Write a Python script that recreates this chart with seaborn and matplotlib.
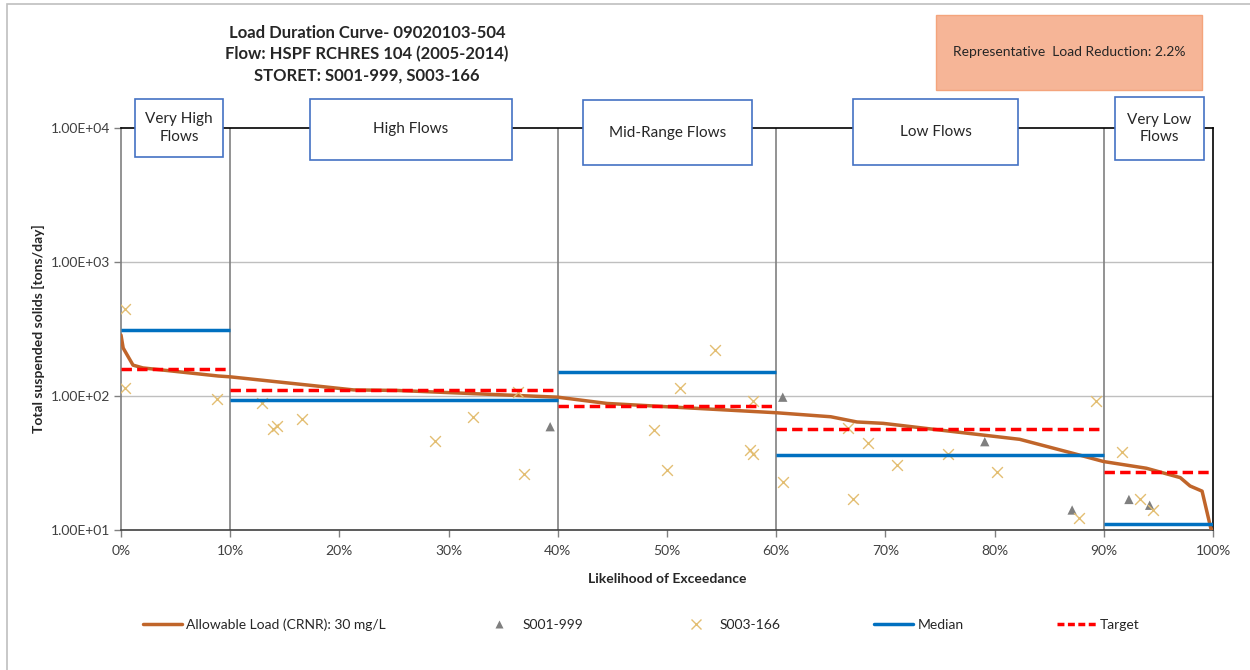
import numpy as np
import pandas as pd
import matplotlib
matplotlib.use("Agg")
import matplotlib.pyplot as plt
import seaborn as sns
from matplotlib.patches import Rectangle
from matplotlib.ticker import FuncFormatter, FixedLocator, NullLocator
from matplotlib.lines import Line2D

# allowable load curve (CRNR 30 mg/L)
curve_x = [0, 0.2, 1.1, 2.0, 8.9, 10, 21.3, 25.3, 40, 44.5, 60, 65, 67.4, 69.8,
           75, 82.3, 87.2, 90, 93.9, 97, 97.9, 99, 99.8, 100]
curve_y = [285, 228, 170, 162, 141, 139, 111, 110, 98, 88, 75, 70, 64, 62.5,
           55.7, 47.5, 37.3, 32.4, 28.9, 24.6, 21.3, 19.5, 10.3, 10]

# monitoring samples
s001_x = [39.3, 60.6, 79.1, 87.1, 92.3, 94.2]
s001_y = [59, 98, 45.6, 14.1, 16.9, 15.3]

s003_x = [0.4, 0.4, 8.8, 12.9, 13.9, 14.3, 16.6, 28.8, 32.2, 36.4, 36.9, 48.8,
          50.0, 51.2, 54.4, 57.6, 57.9, 57.9, 60.6, 66.6, 67.0, 68.4, 71.1,
          75.7, 80.2, 87.7, 89.3, 91.7, 93.3, 94.5]
s003_y = [446, 115, 95, 88, 56.8, 60, 67.3, 45.9, 69.3, 107, 26.2, 55.8,
          27.9, 115, 220, 39.5, 37, 92.5, 22.9, 58, 17, 44.4, 30.5,
          37, 27.2, 12.2, 91.9, 38, 17, 14.1]

# flow zones
zone_edges = [0, 10, 40, 60, 90, 100]
zone_names = ["Very High\nFlows", "High Flows", "Mid-Range Flows", "Low Flows", "Very Low\nFlows"]
median_vals = [311, 93, 152, 36.3, 11.0]
target_vals = [158, 110, 84.7, 56.4, 27.2]

W, H = 1250, 670

sns.set_theme(style="white")
plt.rcParams["font.family"] = ["Lato", "DejaVu Sans"]

fig = plt.figure(figsize=(12.5, 6.7), dpi=100)
ax = fig.add_axes([121 / W, 1 - 530 / H, (1213 - 121) / W, (530 - 128) / H])

# gridlines & zone dividers
for v in [1e2, 1e3]:
    ax.axhline(v, color="#BFBFBF", lw=1, zorder=0)
for e in zone_edges[1:-1]:
    ax.axvline(e, color="#808080", lw=1.2, zorder=1)

sns.lineplot(x=curve_x, y=curve_y, ax=ax, color="#C0652A", lw=2.5,
             estimator=None, sort=False, zorder=3)
sns.scatterplot(x=s001_x, y=s001_y, ax=ax, marker="^", color="#7F7F7F",
                s=45, edgecolor="none", zorder=4)
sns.scatterplot(x=s003_x, y=s003_y, ax=ax, marker="x", color="#E3BE72",
                s=60, linewidth=1.0, zorder=4)

ax.hlines(median_vals, zone_edges[:-1], zone_edges[1:], color="#0070C0", lw=2.5, zorder=5)
ax.hlines(target_vals, zone_edges[:-1], zone_edges[1:], color="#FF0000", lw=2.5,
          linestyles=(0, (3, 1.5)), zorder=5)

ax.set_yscale("log")
ax.set_ylim(10, 1e4)
ax.set_xlim(0, 100)
ax.yaxis.set_major_locator(FixedLocator([10, 100, 1000, 10000]))
ax.yaxis.set_minor_locator(NullLocator())
ax.yaxis.set_major_formatter(FuncFormatter(lambda v, p: f"{v:.2E}"))
ax.set_xticks(range(0, 101, 10))
ax.xaxis.set_major_formatter(FuncFormatter(lambda v, p: f"{v:.0f}%"))
ax.tick_params(axis="both", which="major", length=5, width=1, color="#808080",
               labelsize=10, labelcolor="#404040", pad=3, direction="out",
               bottom=True, left=True)
ax.tick_params(axis="x", pad=6)

ax.spines["top"].set_color("black")
ax.spines["right"].set_color("black")
ax.spines["bottom"].set_color("#404040")
ax.spines["left"].set_color("#808080")
for s in ax.spines.values():
    s.set_linewidth(1.2)

ax.set_xlabel("Likelihood of Exceedance", fontsize=10, fontweight="bold", labelpad=11)
ax.set_ylabel("Total suspended solids [tons/day]", fontsize=10, fontweight="bold", labelpad=4)

# outer chart border
fig.patches.append(Rectangle((7 / W, -0.1), 1.2, 1.1 - 4 / H, transform=fig.transFigure,
                             fill=False, edgecolor="#BFBFBF", lw=1.2, zorder=0))

# title
fig.text(367 / W, 1 - 54 / H,
         "Load Duration Curve- 09020103-504\nFlow: HSPF RCHRES 104 (2005-2014)\nSTORET: S001-999, S003-166",
         ha="center", va="center", fontsize=12, fontweight="bold", linespacing=1.4)

# reduction box
fig.patches.append(Rectangle((936 / W, 1 - 90 / H), (1202 - 936) / W, 75 / H,
                             transform=fig.transFigure, facecolor="#F6B597",
                             edgecolor="#F4A47C", lw=1, zorder=2))
fig.text(1069 / W, 1 - 52 / H, "Representative  Load Reduction: 2.2%",
         ha="center", va="center", fontsize=10, color="#262626", zorder=3)

# zone label boxes
zone_boxes = [(135, 223, 99, 157), (310, 512, 99, 160), (583, 752, 100, 165),
              (853, 1018, 99, 165), (1115, 1204, 97, 160)]
for name, (x0, x1, y0, y1) in zip(zone_names, zone_boxes):
    fig.patches.append(Rectangle((x0 / W, 1 - y1 / H), (x1 - x0) / W, (y1 - y0) / H,
                                 transform=fig.transFigure, facecolor="white",
                                 edgecolor="#4472C4", lw=1.2, zorder=2))
    fig.text((x0 + x1) / 2 / W, 1 - (y0 + y1) / 2 / H, name, ha="center", va="center",
             fontsize=11, color="#262626", linespacing=1.3, zorder=3)

# legend
handles = [
    Line2D([], [], color="#C0652A", lw=2.5),
    Line2D([], [], marker="^", color="#7F7F7F", ls="none", markersize=6, markeredgecolor="none"),
    Line2D([], [], marker="x", color="#E3BE72", ls="none", markersize=7, markeredgewidth=1),
    Line2D([], [], color="#0070C0", lw=2.5),
    Line2D([], [], color="#FF0000", lw=2.5, ls=(0, (2, 1))),
]
labels = ["Allowable Load (CRNR): 30 mg/L", "S001-999", "S003-166", "Median", "Target"]
fig.legend(handles, labels, loc="center", ncol=5, mode="expand", frameon=False,
           bbox_to_anchor=(143 / W, 1 - 625 / H, (1140 - 143) / W, 0),
           fontsize=10, handlelength=2.8, handletextpad=0.3, borderaxespad=0, borderpad=0,
           labelcolor="#262626")

fig.savefig("out.png", dpi=100)
